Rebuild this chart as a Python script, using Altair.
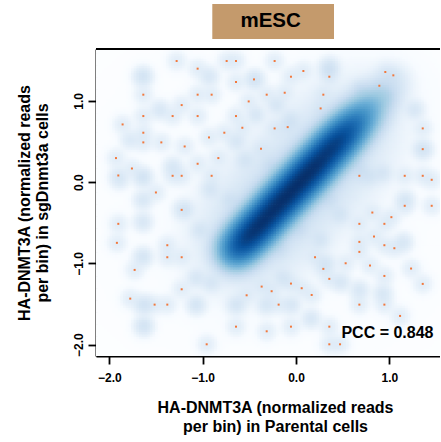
import numpy as np
import pandas as pd
import altair as alt

# ---------------- data (data units) ----------------
# sparse, lowest-density points drawn as orange dots
out_x = [-1.279, -0.743, -0.643, -0.229, -1.054, 0.079, -0.054, 0.357, 0.957, 1.043,
         -0.450, -0.643, 0.893, -0.121, -1.636, -1.054, -0.904, -0.314, 0.293, -0.507,
         -1.225, 0.264, -1.636, -1.322, -1.054, -0.643, -1.858, -0.575, -0.089, -0.229,
         -1.636, -0.768, -0.932, -1.636, -1.443, 1.358, -1.193, -0.375, 1.358, -1.929,
         -0.832, -1.758, -1.054, -1.904, -1.322, -1.225, -0.904, 0.679, 1.165, 1.358,
         1.454, -1.501, 1.165, 1.454, -1.225, 0.818, 1.022, -1.904, 0.679, 0.947,
         0.836, -1.919, 0.679, -1.379, 0.947, 1.054, 0.679, -1.379, -1.225, 0.204,
         -1.729, 0.532, 0.793, 0.293, 1.233, 0.947, -0.054, 1.358, -0.368, 0.061,
         -1.225, -0.261, -0.529, 0.168, -1.776, -1.515, -1.379, -0.186, 0.679, 0.947,
         1.115, -0.643, -0.054, 0.357, -0.314, -0.957, 0.357, 0.472, 0.357]
out_y = [1.490, 1.490, 1.490, 1.490, 1.396, 1.367, 1.297, 1.297, 1.355, 1.314,
         1.264, 1.232, 1.186, 1.100, 1.076, 1.076, 1.076, 1.076, 1.076, 0.993,
         0.948, 0.907, 0.813, 0.813, 0.813, 0.813, 0.710, 0.669, 0.677, 0.661,
         0.608, 0.608, 0.550, 0.489, 0.489, 0.661, 0.439, 0.411, 0.406, 0.296,
         0.296, 0.168, 0.226, 0.082, 0.078, 0.078, 0.078, 0.078, 0.078, 0.078,
         0.029, -0.127, -0.291, -0.291, -0.341, -0.374, -0.431, -0.513, -0.513, -0.513,
         -0.669, -0.747, -0.735, -0.776, -0.776, -0.813, -0.858, -0.924, -0.924, -0.924,
         -1.080, -0.998, -1.026, -1.067, -1.063, -1.154, -1.248, -1.252, -1.285, -1.305,
         -1.318, -1.342, -1.392, -1.388, -1.433, -1.507, -1.507, -1.507, -1.507, -1.507,
         -1.646, -1.778, -1.778, -1.778, -1.835, -1.995, -1.995, -1.995, -1.190]

# small clusters of points seen as faint blue blobs
blob_x = [-1.64, -0.93, 0.35, -0.43, -0.21, -0.64, -1.64, -1.64, -1.64, -1.64,
          -1.63, -1.63, -1.32, -1.07, -1.07, -0.64, -0.32, -0.05, 0.16, -0.91,
          -0.14, 0.32, 0.48, 0.68, 0.93, 0.93, 0.69, 1.15, 1.17, 0.47,
          0.26, -1.03, -1.19, -0.92, -1.46, -0.44, -0.28, -0.55, 1.36, 1.27,
          -1.89, -1.78, -0.71, -0.81, -0.17, 0.04, 0.36, 0.69, 0.97, 0.36,
          -0.06, 0.79]
blob_y = [1.30, 1.30, 1.38, 0.83, 0.95, 0.50, 0.06, -0.22, -0.49, -0.92,
          -1.51, -1.77, 0.19, -1.18, -1.51, -1.51, -1.51, -1.51, -1.68, -1.24,
          -1.18, -1.00, -1.23, -1.33, -1.37, 0.11, 0.17, -0.74, -0.22, -0.40,
          -0.71, -0.59, -0.34, -0.09, 0.89, 1.26, 0.21, 0.27, 0.40, 0.89,
          0.03, 0.52, -0.22, -0.71, -0.83, -0.59, -0.22, 1.14, 1.05, 1.42,
          0.77, 0.07]
blob_w = [3, 2, 2, 2, 2, 2, 3, 2, 2, 2.5,
          3, 3, 2, 2, 2.5, 2.5, 2, 2, 2, 2,
          2, 2, 2, 2, 2, 2, 2, 2, 2, 2,
          2, 2, 2, 2, 2, 2, 2, 2, 2, 2,
          1.5, 1.5, 2, 2, 2, 2, 2, 3, 3, 2,
          2, 2]

# main ridge of points: centre line and relative density along it
ridge_x = [-0.65, -0.55, -0.45, -0.35, -0.25, -0.15, -0.05, 0.05, 0.15,
           0.25, 0.35, 0.45, 0.55, 0.65, 0.75, 0.85, 0.95, 1.05]
ridge_y = [-0.84, -0.72, -0.60, -0.48, -0.35, -0.23, -0.11, 0.01, 0.13,
           0.25, 0.38, 0.50, 0.62, 0.74, 0.86, 0.98, 1.10, 1.23]
ridge_w = [0.45, 0.85, 0.95, 1.0, 1.0, 1.0, 1.0, 1.0, 1.0,
           0.95, 0.9, 0.8, 0.6, 0.35, 0.15, 0.05, 0.015, 0.005]

x_ticks = [-2.0, -1.0, 0.0, 1.0]
y_ticks = [-2.0, -1.0, 0.0, 1.0]
x_domain = [-2.143, 1.543]
y_domain = [-2.139, 1.638]

panel_title = ["mESC"]
pcc_label = ["PCC = 0.848"]

blues = ["#FFFFFF", "#F7FBFF", "#DEEBF7", "#C6DBEF", "#9ECAE1",
         "#6BAED6", "#4292C6", "#2171B5", "#08519C", "#08306B"]

# ---------------- smoothed density (like smoothScatter) ----------------
W, H = 344, 307
ppx = W / (x_domain[1] - x_domain[0])
ppy = H / (y_domain[1] - y_domain[0])
nb = 128
xe = np.linspace(x_domain[0], x_domain[1], nb + 1)
ye = np.linspace(y_domain[0], y_domain[1], nb + 1)
xc = (xe[:-1] + xe[1:]) / 2
yc = (ye[:-1] + ye[1:]) / 2
GX, GY = np.meshgrid(xc, yc)


def kern(cx, cy, w, spx):
    cx = np.asarray(cx)[None, None, :]
    cy = np.asarray(cy)[None, None, :]
    w = np.asarray(w, dtype=float)[None, None, :]
    sx, sy = spx / ppx, spx / ppy
    g = np.exp(-0.5 * (((GX[..., None] - cx) / sx) ** 2 + ((GY[..., None] - cy) / sy) ** 2))
    return (w * g).sum(-1)


ridge = kern(ridge_x, ridge_y, ridge_w, 10.0) + 0.004 * kern(ridge_x, ridge_y, ridge_w, 28.0)
ridge = ridge / ridge.max()
single = 0.0017
sparse = kern(out_x, out_y, np.ones(len(out_x)), 5.5) + kern(blob_x, blob_y, blob_w, 5.5)
haze = 0.00006 * np.exp(-0.5 * (((GX + 0.2) / 1.0) ** 2 + ((GY + 0.2) / 1.0) ** 2))
dens = ridge + single * sparse + haze
t = np.clip(dens, 0, 1) ** 0.25

dx = xe[1] - xe[0]
dy = ye[1] - ye[0]
X0, Y0 = np.meshgrid(xe[:-1], ye[:-1])
cells = pd.DataFrame({
    "x0": X0.ravel().round(4),
    "x1": (X0.ravel() + 1.3 * dx).round(4),
    "y0": Y0.ravel().round(4),
    "y1": (Y0.ravel() + 1.3 * dy).round(4),
    "t": t.ravel().round(4),
})
cells = cells[cells["t"] > 0.03]

pts = pd.DataFrame({"x0": out_x, "y0": out_y})

FONT = "Liberation Sans"

xaxis = alt.Axis(values=x_ticks, format=".1f", grid=False, labelFont=FONT, labelFontWeight="bold",
                 labelFontSize=12, labelColor="black", labelPadding=8, labelFlush=False,
                 labelOverlap=False, tickSize=8, tickWidth=1.8, tickColor="black",
                 domain=True, domainColor="black", domainWidth=2,
                 title=["HA-DNMT3A (normalized reads", "per bin) in Parental cells"],
                 titleFont=FONT, titleFontWeight="bold", titleFontSize=16, titleColor="black",
                 titleX=179, titleY=43, titleAlign="center", titleBaseline="top",
                 titleLineHeight=19.3)
yaxis = alt.Axis(values=y_ticks, format=".1f", grid=False, labelFont=FONT, labelFontWeight="bold",
                 labelFontSize=12, labelColor="black", labelPadding=6, labelFlush=False,
                 labelOverlap=False, labelAngle=270, labelAlign="center",
                 labelBaseline="alphabetic",
                 tickSize=8, tickWidth=1.8, tickColor="black",
                 domain=True, domainColor="black", domainWidth=2,
                 title=["HA-DNMT3A (normalized reads", "per bin) in sgDnmt3a cells"],
                 titleFont=FONT, titleFontWeight="bold", titleFontSize=16, titleColor="black",
                 titleAngle=270, titleX=-80, titleY=153.5, titleAlign="center",
                 titleBaseline="top", titleLineHeight=18.5)

xs = alt.Scale(domain=x_domain, nice=False, zero=False)
ys = alt.Scale(domain=y_domain, nice=False, zero=False)

heat = alt.Chart(cells).mark_rect(clip=True, strokeWidth=0).encode(
    x=alt.X("x0:Q", scale=xs, axis=xaxis),
    x2="x1:Q",
    y=alt.Y("y0:Q", scale=ys, axis=yaxis),
    y2="y1:Q",
    color=alt.Color("t:Q", scale=alt.Scale(domain=[i / 9 for i in range(10)], range=blues,
                                           interpolate="rgb"), legend=None),
)

dots = alt.Chart(pts).mark_square(size=4, color="#F2783C", opacity=1).encode(
    x=alt.X("x0:Q", scale=xs, axis=xaxis),
    y=alt.Y("y0:Q", scale=ys, axis=yaxis),
)

top_line = alt.Chart(pd.DataFrame({"k": [0]})).mark_rule(color="black", strokeWidth=2).encode(
    x=alt.value(0), x2=alt.value(W), y=alt.value(0)
)

title_box = alt.Chart(pd.DataFrame({"label": panel_title})).mark_rect(color="#C49A6C").encode(
    x=alt.value(116.3), x2=alt.value(238), y=alt.value(-45), y2=alt.value(-10)
)
title_txt = alt.Chart(pd.DataFrame({"label": panel_title})).mark_text(
    font=FONT, fontWeight="bold", fontSize=20.5, color="black", align="center", baseline="middle"
).encode(x=alt.value(174.6), y=alt.value(-28.3), text="label:N")

pcc = alt.Chart(pd.DataFrame({"label": pcc_label})).mark_text(
    font=FONT, fontWeight="bold", fontSize=16, color="black", align="right", baseline="middle"
).encode(x=alt.value(337.5), y=alt.value(283.5), text="label:N")

chart = alt.layer(heat, dots, top_line, title_box, title_txt, pcc).properties(
    width=W, height=H,
    autosize=alt.AutoSizeParams(type="none"),
    padding={"left": 96, "top": 49, "right": 0, "bottom": 85},
).configure_view(stroke="transparent").configure(background="white")

chart.save("out.html", embed_options={"renderer": "svg", "actions": False})
